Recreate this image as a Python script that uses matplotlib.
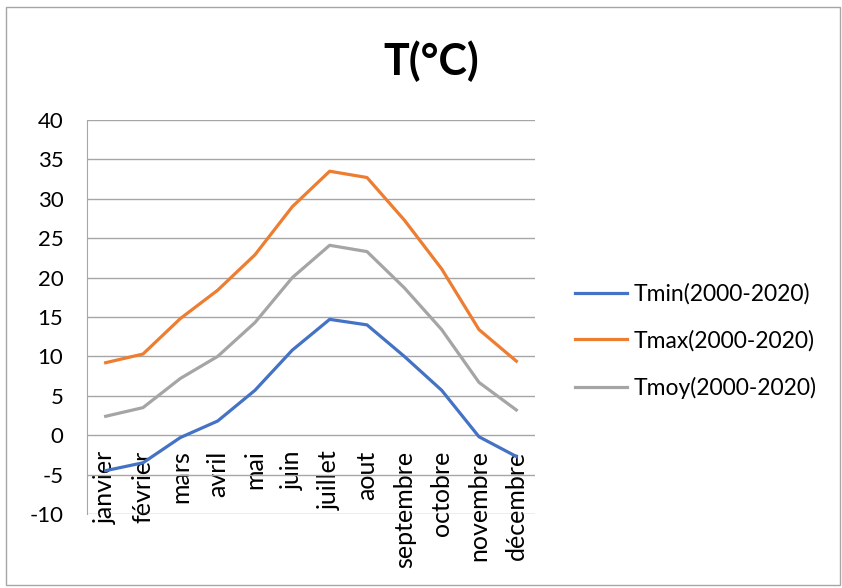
import matplotlib
matplotlib.use("Agg")
import matplotlib.pyplot as plt
from matplotlib.patches import Rectangle

months = ["janvier", "février", "mars", "avril", "mai", "juin", "juillet",
          "aout", "septembre", "octobre", "novembre", "décembre"]
tmin = [-4.5, -3.5, -0.3, 1.8, 5.7, 10.8, 14.7, 14.0, 10.0, 5.7, -0.2, -2.7]
tmax = [9.2, 10.3, 14.8, 18.4, 22.9, 29.0, 33.5, 32.7, 27.3, 21.1, 13.4, 9.4]
tmoy = [2.4, 3.5, 7.2, 10.0, 14.3, 20.0, 24.1, 23.3, 18.7, 13.4, 6.7, 3.2]
yticks = [-10, -5, 0, 5, 10, 15, 20, 25, 30, 35, 40]

plt.rcParams["font.family"] = ["Lato", "DejaVu Sans"]

fig = plt.figure(figsize=(8.42, 5.88), dpi=100)
fig.patches.append(Rectangle((6 / 842, 3 / 588), 834 / 842, 578 / 588,
                             transform=fig.transFigure, fill=False,
                             edgecolor="#a6a6a6", linewidth=1))

ax = fig.add_axes([87 / 842, 74 / 588, 448 / 842, 394 / 588])
x = list(range(len(months)))
ax.plot(x, tmin, color="#4472C4", lw=2.3, label="Tmin(2000-2020)")
ax.plot(x, tmax, color="#ED7D31", lw=2.3, label="Tmax(2000-2020)")
ax.plot(x, tmoy, color="#A5A5A5", lw=2.3, label="Tmoy(2000-2020)")

# category axis crosses the value axis at 0
ax.spines["bottom"].set_position(("data", 0))
ax.spines["bottom"].set_color("none")
for s in ["top", "right"]:
    ax.spines[s].set_visible(False)
ax.spines["left"].set_color("#a6a6a6")

ax.set_xlim(-0.5, len(months) - 0.5)
ax.set_ylim(-10, 40)
ax.set_yticks(yticks)
ax.set_yticklabels([str(v) for v in yticks], fontsize=16)
ax.tick_params(axis="y", length=0, pad=17)
ax.grid(axis="y", color="#a6a6a6", lw=1)
ax.set_axisbelow(True)

ax.set_xticks(x)
ax.set_xticklabels(months, rotation=90, fontsize=18, va="top", ha="center")
ax.tick_params(axis="x", length=0, pad=11)

fig.text(431 / 842, 1 - 61 / 588, "T(°C)", ha="center", va="center",
         fontsize=31, fontweight="bold")

fig.legend(loc="center left", bbox_to_anchor=(554 / 842, 1 - 341 / 588),
           frameon=False, fontsize=16.5, handlelength=2.27, handletextpad=0.3,
           labelspacing=1.1)

fig.savefig("out.png", dpi=100)
